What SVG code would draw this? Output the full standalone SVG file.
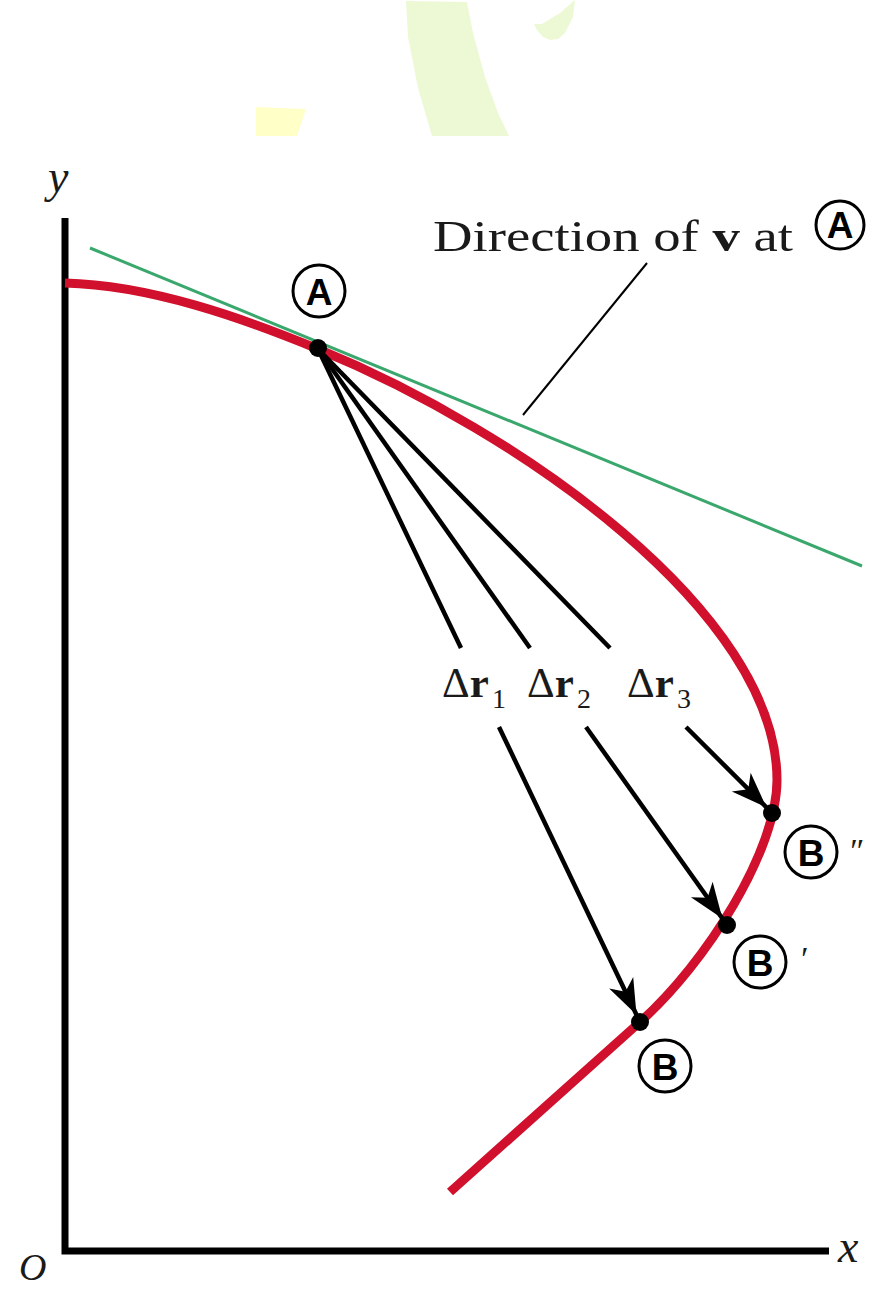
<svg xmlns="http://www.w3.org/2000/svg" width="870" height="1291" viewBox="0 0 870 1291">
<style>
.serif{font-family:"Liberation Serif","Times New Roman",serif;fill:#1a1a1a}
.ital{font-style:italic}
.circ{fill:#fff;stroke:#000;stroke-width:3}
.cl{font-family:"Liberation Sans",Arial,sans-serif;font-weight:bold;font-size:37px;text-anchor:middle;fill:#000}
.arr{stroke:#000;stroke-width:4.5;fill:none}
.dot{fill:#000}
</style>
<defs>
<marker id="ah" markerUnits="userSpaceOnUse" markerWidth="40" markerHeight="30" viewBox="-34 -13 36 26" refX="0" refY="0" orient="auto">
<path d="M0,0 L-32,-12 L-23,0 L-32,12 Z" fill="#000"/>
</marker>
</defs>
<rect width="870" height="1291" fill="#fff"/>
<g id="watermark">
<polygon points="256,107 306,109 297,136 256,136" fill="#ffffc8"/>
<polygon points="406,1 467,2 473,33 485,77 498,113 509,136 432,136 418,88 408,37" fill="#edf9d4"/>
<path d="M534,24 L542,24 L560,13 L575,0 L573,17 L565,33 L558,39 L550,40 L543,37 L537,30 Z" fill="#edf9d4"/>
</g>
<g id="axes">
<path d="M65,218 V1251 H829" fill="none" stroke="#000" stroke-width="7"/>
<text class="serif ital" x="48" y="192" font-size="46">y</text>
<text class="serif ital" x="838" y="1262" font-size="46">x</text>
<text class="serif ital" x="19" y="1280" font-size="38">O</text>
</g>
<g id="path-curve">
<path d="M65,283 C150,285 243,318 318,349 C518,431 777,612 777,780 C777,850 707,962 640,1022 L450,1192" fill="none" stroke="#d0102c" stroke-width="9"/>
</g>
<g id="tangent">
<line x1="90" y1="248" x2="862" y2="566" stroke="#3aa76d" stroke-width="3"/>
<line x1="647" y1="263" x2="523" y2="415" stroke="#000" stroke-width="2"/>
<text class="serif" x="433" y="251" font-size="45" textLength="360" lengthAdjust="spacingAndGlyphs">Direction of <tspan font-weight="bold">v</tspan> at</text>
<circle class="circ" cx="840" cy="225" r="24"/>
<text class="cl" x="840" y="238" font-size="35">A</text>
</g>
<g id="connectors">
<line class="arr" x1="318" y1="349" x2="461" y2="648"/>
<path class="arr" d="M499,727 L636.5,1014.8" marker-end="url(#ah)"/>
<line class="arr" x1="318" y1="349" x2="530" y2="648"/>
<path class="arr" d="M586,727 L722.4,918.5" marker-end="url(#ah)"/>
<line class="arr" x1="318" y1="349" x2="610" y2="648"/>
<path class="arr" d="M686,727 L766.4,807.3" marker-end="url(#ah)"/>
</g>
<g id="labels-dr">
<text class="serif" x="442" y="697" font-size="43">Δ<tspan font-weight="bold">r</tspan><tspan x="492" y="708" font-size="28">1</tspan></text>
<text class="serif" x="527" y="697" font-size="43">Δ<tspan font-weight="bold">r</tspan><tspan x="577" y="708" font-size="28">2</tspan></text>
<text class="serif" x="627" y="697" font-size="43">Δ<tspan font-weight="bold">r</tspan><tspan x="677" y="708" font-size="28">3</tspan></text>
</g>
<g id="node-A">
<circle class="dot" cx="318" cy="348" r="9"/>
<circle class="circ" cx="319" cy="291" r="26"/>
<text class="cl" x="319" y="305">A</text>
</g>
<g id="node-B2">
<circle class="dot" cx="772" cy="813" r="9"/>
<circle class="circ" cx="811" cy="852" r="26"/>
<text class="cl" x="811" y="866">B</text>
<text class="serif ital" x="848" y="862" font-size="34">″</text>
</g>
<g id="node-B1">
<circle class="dot" cx="727" cy="925" r="9"/>
<circle class="circ" cx="760" cy="962" r="26"/>
<text class="cl" x="760" y="976">B</text>
<text class="serif ital" x="799" y="970" font-size="34">′</text>
</g>
<g id="node-B">
<circle class="dot" cx="640" cy="1022" r="9"/>
<circle class="circ" cx="665" cy="1066" r="26"/>
<text class="cl" x="665" y="1080">B</text>
</g>
</svg>
